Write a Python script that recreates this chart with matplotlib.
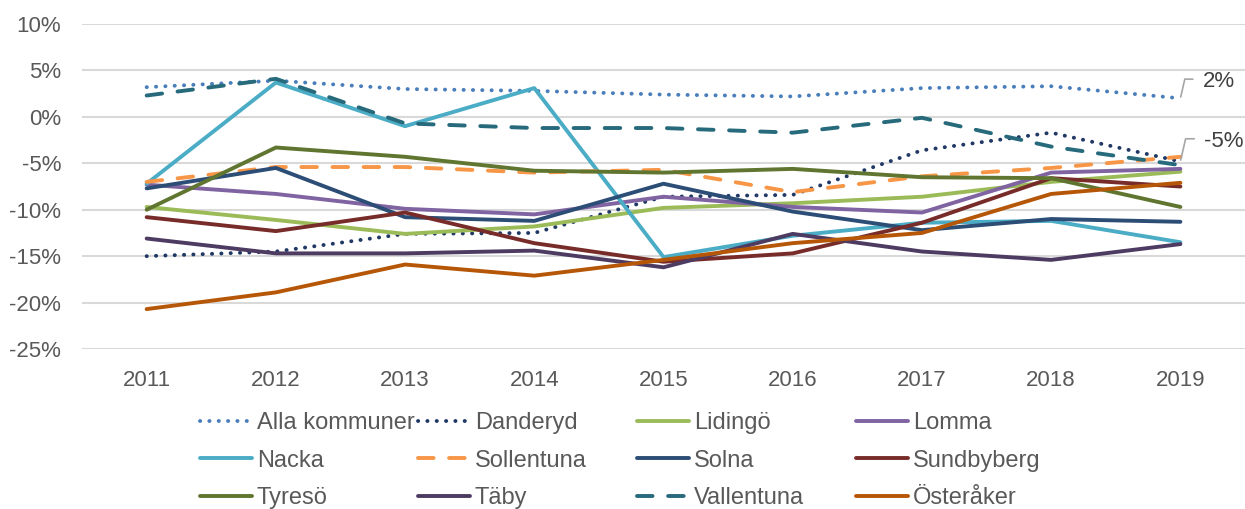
import numpy as np
import matplotlib
matplotlib.use('Agg')
import matplotlib.pyplot as plt

plt.rcParams['font.family'] = ['Liberation Sans', 'DejaVu Sans']

years = ['2011', '2012', '2013', '2014', '2015', '2016', '2017', '2018', '2019']

alla = [3.2, 3.9, 3.0, 2.8, 2.4, 2.2, 3.1, 3.3, 2.0]
danderyd = [-15.0, -14.5, -12.6, -12.5, -8.6, -8.4, -3.6, -1.7, -4.8]
lidingo = [-9.7, -11.1, -12.6, -11.8, -9.8, -9.3, -8.6, -7.0, -5.9]
lomma = [-7.3, -8.3, -9.9, -10.5, -8.6, -9.7, -10.3, -6.0, -5.6]
nacka = [-7.2, 3.7, -1.0, 3.1, -15.1, -12.8, -11.4, -11.2, -13.5]
sollentuna = [-7.0, -5.4, -5.4, -6.0, -5.7, -8.1, -6.4, -5.5, -4.3]
solna = [-7.7, -5.5, -10.8, -11.2, -7.2, -10.2, -12.2, -11.0, -11.3]
sundbyberg = [-10.8, -12.3, -10.3, -13.6, -15.6, -14.7, -11.4, -6.6, -7.5]
tyreso = [-10.0, -3.3, -4.3, -5.8, -6.0, -5.6, -6.5, -6.6, -9.7]
taby = [-13.1, -14.7, -14.7, -14.4, -16.2, -12.6, -14.5, -15.4, -13.7]
vallentuna = [2.3, 4.1, -0.7, -1.2, -1.2, -1.7, -0.1, -3.2, -5.2]
osteraker = [-20.7, -18.9, -15.9, -17.1, -15.4, -13.6, -12.5, -8.3, -7.1]

names = ['Alla kommuner', 'Danderyd', 'Lidingö', 'Lomma', 'Nacka', 'Sollentuna',
         'Solna', 'Sundbyberg', 'Tyresö', 'Täby', 'Vallentuna', 'Österåker']
series = [alla, danderyd, lidingo, lomma, nacka, sollentuna,
          solna, sundbyberg, tyreso, taby, vallentuna, osteraker]
colors = ['#4A7EBB', '#1F3864', '#9BBB59', '#8064A2', '#4BACC6', '#F79646',
          '#2C4D75', '#772C2A', '#5F7530', '#4D3B62', '#276A7C', '#B65708']
styles = ['dot', 'dot', '-', '-', '-', 'dash', '-', '-', '-', '-', 'dash', '-']

fig = plt.figure(figsize=(12.45, 5.09), dpi=100)
ax = fig.add_axes([0.0659, 0.3143, 0.9341, 0.6385])

x = np.arange(len(years))
lw = 2.8
handles = []
for name, vals, c, s in zip(names, series, colors, styles):
    if s == 'dot':
        ln, = ax.plot(x, vals, color=c, lw=lw, linestyle=(0, (0.05, 2.35)),
                      dash_capstyle='round', label=name, zorder=3)
    elif s == 'dash':
        ln, = ax.plot(x, vals, color=c, lw=lw, linestyle=(0, (4.0, 4.0)),
                      dash_capstyle='round', label=name, zorder=3)
    else:
        ln, = ax.plot(x, vals, color=c, lw=lw, solid_capstyle='round',
                      label=name, zorder=3)
    handles.append(ln)

ax.set_xlim(-0.5, len(years) - 0.5)
ax.set_ylim(-25, 10)
ax.set_yticks(np.arange(-25, 11, 5))
ax.set_yticklabels([f'{v}%' for v in range(-25, 11, 5)])
ax.set_xticks(x)
ax.set_xticklabels(years)
ax.grid(axis='y', color='#D9D9D9', lw=1.5, zorder=0)
for sp in ax.spines.values():
    sp.set_visible(False)
ax.tick_params(length=0, labelsize=16, colors='#595959')
ax.tick_params(axis='y', pad=15)
ax.tick_params(axis='x', pad=15)

# data labels with leader lines
leader = dict(arrowstyle='-', color='#A6A6A6', lw=1.2, shrinkA=5, shrinkB=1,
              relpos=(0, 0.62), connectionstyle='angle,angleA=0,angleB=77,rad=0')
ax.annotate(f'{alla[-1]:.0f}%', xy=(8, alla[-1]), xytext=(16, 12),
            textcoords='offset points', fontsize=16, color='#404040', va='center',
            arrowprops=leader)
ax.annotate(f'{danderyd[-1]:.0f}%', xy=(8, danderyd[-1]), xytext=(17, 14.5),
            textcoords='offset points', fontsize=16, color='#404040', va='center',
            arrowprops=leader)

# legend: 4 equal-width columns, row-major order
col_x = [200, 418, 637, 856]
for c in range(4):
    leg = fig.legend(handles=handles[c::4], loc='upper left',
                     bbox_to_anchor=(col_x[c] / 1245, 1 - 412 / 509),
                     frameon=False, fontsize=17, handlelength=2.2, handletextpad=0.2,
                     labelspacing=0.66, borderaxespad=0, borderpad=0)
    for t in leg.get_texts():
        t.set_color('#595959')

fig.savefig('out.png', dpi=100)
